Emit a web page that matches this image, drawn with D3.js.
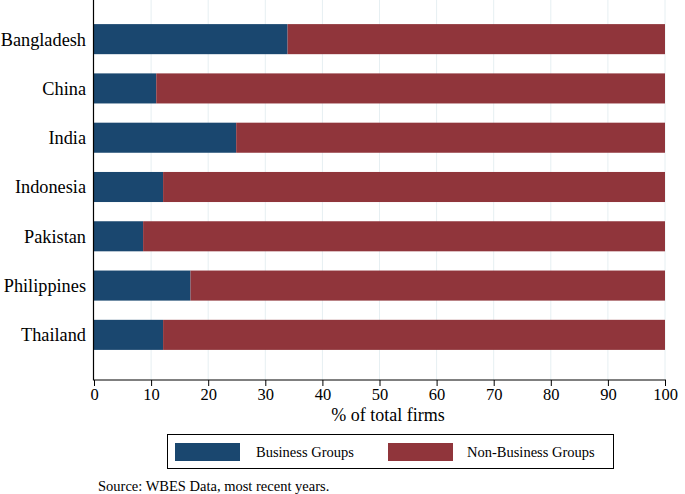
<!DOCTYPE html>
<html><head><meta charset="utf-8">
<script src="https://cdn.jsdelivr.net/npm/d3@7"></script>
<style>body{margin:0;background:#fff}svg{display:block}text{font-family:"Liberation Serif","Times New Roman",serif;fill:#000}</style>
</head><body>
<script>
const countries = ["Bangladesh","China","India","Indonesia","Pakistan","Philippines","Thailand"];
const businessGroups = [33.9, 10.9, 24.9, 12.1, 8.6, 16.9, 12.1];
const nonBusinessGroups = businessGroups.map(v => 100 - v);
const xTicks = [0,10,20,30,40,50,60,70,80,90,100];
const seriesNames = ["Business Groups","Non-Business Groups"];
const colors = ["#1a476f","#90353b"];

const W = 685, H = 494;
const svg = d3.select("body").append("svg").attr("width", W).attr("height", H);
const x = d3.scaleLinear().domain([0,100]).range([94,665]);
const y = d3.scaleBand().domain(countries).range([14.5,359.5]).paddingInner(0.39).paddingOuter(0.195);
const axisY = 380;

// grid
svg.append("g").selectAll("line").data(xTicks.slice(1)).join("line")
  .attr("x1", d => x(d)).attr("x2", d => x(d)).attr("y1", 0).attr("y2", axisY)
  .attr("stroke", "#e6eff2").attr("stroke-width", 1);

const rows = countries.map((c,i) => ({c, vals:[businessGroups[i], nonBusinessGroups[i]]}));
const stack = rows.flatMap(r => {let acc=0; return r.vals.map((v,k)=>{const o={c:r.c,k,x0:acc,x1:acc+v}; acc+=v; return o;});});
svg.append("g").selectAll("rect").data(stack).join("rect")
  .attr("x", d => x(d.x0)).attr("width", d => x(d.x1)-x(d.x0))
  .attr("y", d => y(d.c)).attr("height", y.bandwidth())
  .attr("fill", d => colors[d.k]);

// x axis
const xa = svg.append("g").attr("transform", `translate(0,${axisY})`)
  .call(d3.axisBottom(x).tickValues(xTicks).tickSize(6).tickPadding(2).tickSizeOuter(0));
xa.select(".domain").attr("stroke","#000").attr("d", `M${x(0)},0H${x(100)+1}`);
xa.selectAll("line").attr("stroke","#000");
xa.selectAll("text").style("font-size","16.5px").style("font-family","Liberation Serif");

// y axis line
svg.append("line").attr("x1", 93.5).attr("x2", 93.5).attr("y1", 0).attr("y2", axisY+0.5)
  .attr("stroke","#000").attr("stroke-width",1.2);
// y labels
svg.append("g").selectAll("text").data(countries).join("text")
  .attr("x", 86).attr("y", d => y(d)+y.bandwidth()/2).attr("dy","0.35em")
  .attr("text-anchor","end").style("font-size","18.3px").text(d => d);

svg.append("text").attr("x", 388).attr("y", 421).attr("text-anchor","middle")
  .style("font-size","18px").text("% of total firms");

// legend
const lg = svg.append("g");
lg.append("rect").attr("x",167.5).attr("y",434.5).attr("width",446).attr("height",34)
  .attr("fill","#fff").attr("stroke","#000").attr("stroke-width",1);
const lx = [175, 388], tx = [256, 467];
seriesNames.forEach((s,i) => {
  lg.append("rect").attr("x",lx[i]).attr("y",443).attr("width",65).attr("height",18).attr("fill",colors[i]);
  lg.append("text").attr("x",tx[i]).attr("y",452).attr("dy","0.35em").style("font-size","14.5px").text(s);
});

svg.append("text").attr("x",98).attr("y",490.5).style("font-size","14.5px").text("Source: WBES Data, most recent years.");
</script>
</body></html>
